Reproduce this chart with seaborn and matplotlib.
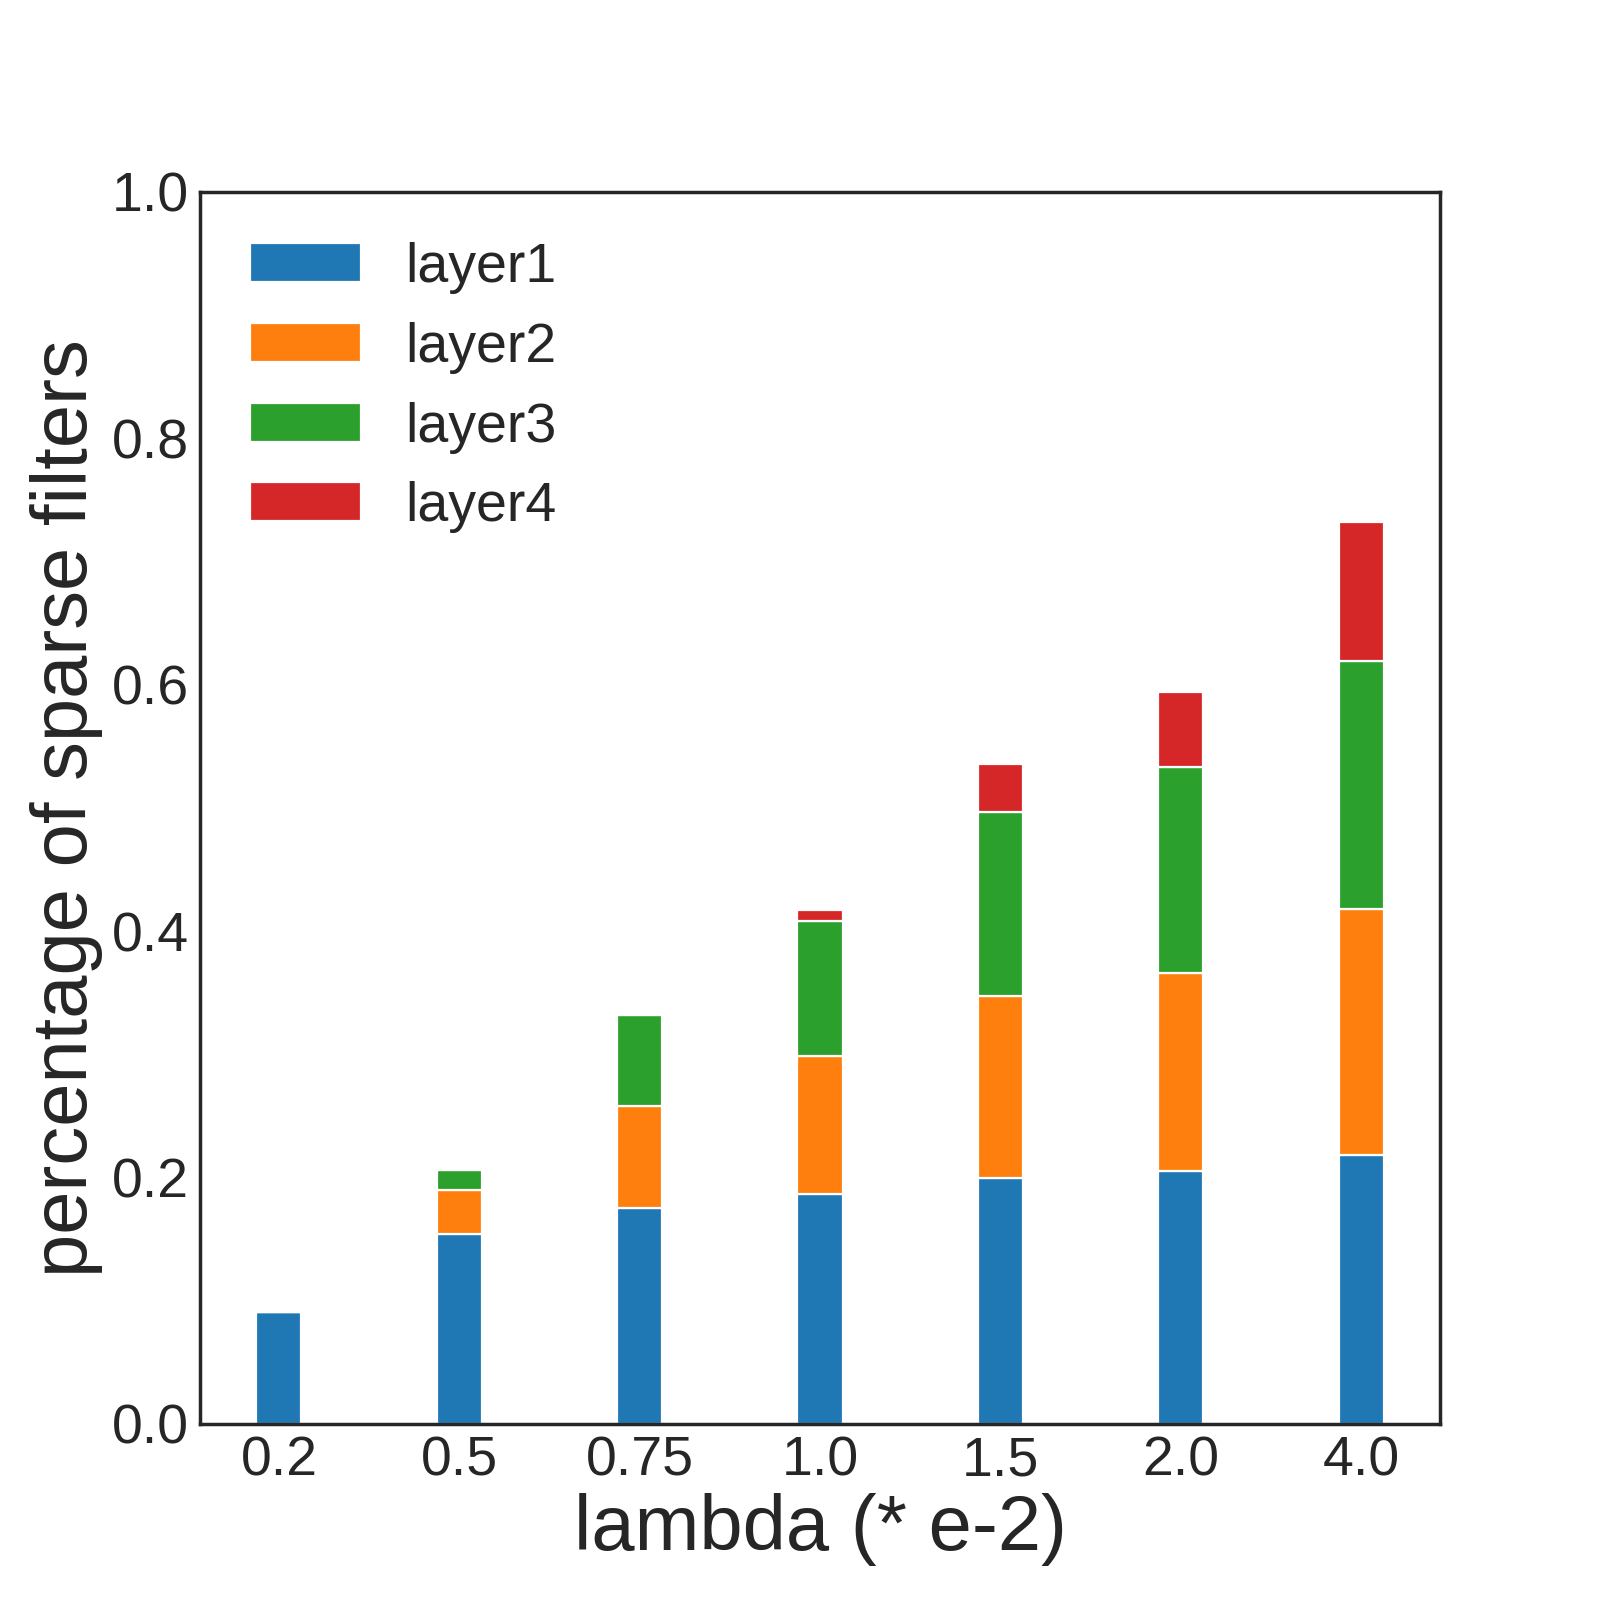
import numpy as np
import matplotlib
matplotlib.use("Agg")
import matplotlib.pyplot as plt
import seaborn as sns

# -----------------------------------
# Data
# -----------------------------------
lambdas = ["0.2", "0.5", "0.75", "1.0", "1.5", "2.0", "4.0"]
layer1 = [0.091, 0.154, 0.1755, 0.187, 0.1995, 0.205, 0.218]
layer2 = [0.0, 0.036, 0.0825, 0.112, 0.1475, 0.161, 0.200]
layer3 = [0.0, 0.016, 0.074, 0.109, 0.150, 0.167, 0.201]
layer4 = [0.0, 0.0, 0.0, 0.0095, 0.039, 0.061, 0.113]
layer_names = ["layer1", "layer2", "layer3", "layer4"]

# -----------------------------------
# Style
# -----------------------------------
sns.set_style("white")
plt.rcParams["font.family"] = ["Liberation Sans", "DejaVu Sans"]

colors = sns.color_palette("tab10", 4)

fig, ax = plt.subplots(figsize=(8, 8), dpi=200)

x = np.arange(len(lambdas))
bottom = np.zeros(len(lambdas))
for name, vals, c in zip(layer_names, [layer1, layer2, layer3, layer4], colors):
    ax.bar(x, vals, width=0.25, bottom=bottom, color=c,
           edgecolor="white", linewidth=0.8, label=name)
    bottom = bottom + np.array(vals)

ax.set_ylim(0, 1.0)
ax.set_xticks(x)
ax.set_xticklabels(lambdas)
ax.tick_params(axis="both", labelsize=20, length=0, pad=4)

ax.set_xlabel("lambda (* e-2)", fontsize=28, labelpad=2)
ax.set_ylabel("percentage of sparse filters", fontsize=28, labelpad=3)

for spine in ax.spines.values():
    spine.set_color("#262626")
    spine.set_linewidth(1.25)

ax.legend(loc="upper left", fontsize=20, frameon=False,
          borderaxespad=0.5, handletextpad=0.8)

plt.savefig("out.png", dpi=200)
